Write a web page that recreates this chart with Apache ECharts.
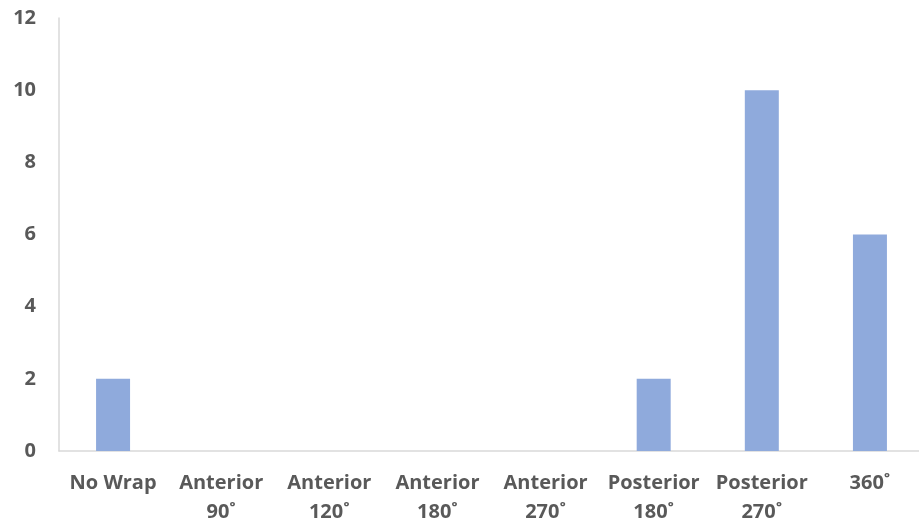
<!DOCTYPE html>
<html>
<head>
<meta charset="utf-8">
<script src="https://cdn.jsdelivr.net/npm/echarts@6/dist/echarts.min.js"></script>
<style>
  html, body { margin: 0; padding: 0; background: #ffffff; overflow: hidden; }
  #chart { width: 924px; height: 527px; }
</style>
</head>
<body>
<div id="chart"></div>
<script>
// Wrap type categories and the number of cases for each
const categories = [
  'No Wrap',
  'Anterior\n90˚',
  'Anterior\n120˚',
  'Anterior\n180˚',
  'Anterior\n270˚',
  'Posterior\n180˚',
  'Posterior\n270˚',
  '360˚'
];
const counts = [2, 0, 0, 0, 0, 2, 10, 6];
const yTicks = { min: 0, max: 12, interval: 2 };

const labelFont = {
  fontFamily: '"Open Sans", "Liberation Sans", sans-serif',
  fontWeight: 'bold',
  fontSize: 20,
  color: '#595959'
};

const chart = echarts.init(document.getElementById('chart'), null, { renderer: 'canvas' });

chart.setOption({
  backgroundColor: '#ffffff',
  animation: false,
  grid: { left: 59, right: 0, top: 18, bottom: 76, containLabel: false },
  xAxis: {
    type: 'category',
    data: categories,
    axisLine: { show: true, lineStyle: { color: '#D9D9D9', width: 1.5 } },
    axisTick: { show: false },
    splitLine: { show: false },
    axisLabel: Object.assign({
      interval: 0,
      margin: 18,
      lineHeight: 29,
      verticalAlign: 'top'
    }, labelFont)
  },
  yAxis: {
    type: 'value',
    min: yTicks.min,
    max: yTicks.max,
    interval: yTicks.interval,
    axisLine: { show: true, lineStyle: { color: '#D9D9D9', width: 1.5 } },
    axisTick: { show: false },
    splitLine: { show: false },
    axisLabel: Object.assign({ margin: 23 }, labelFont)
  },
  series: [{
    type: 'bar',
    data: counts,
    barWidth: 34,
    itemStyle: { color: '#8FAADC' }
  }]
});
</script>
</body>
</html>
